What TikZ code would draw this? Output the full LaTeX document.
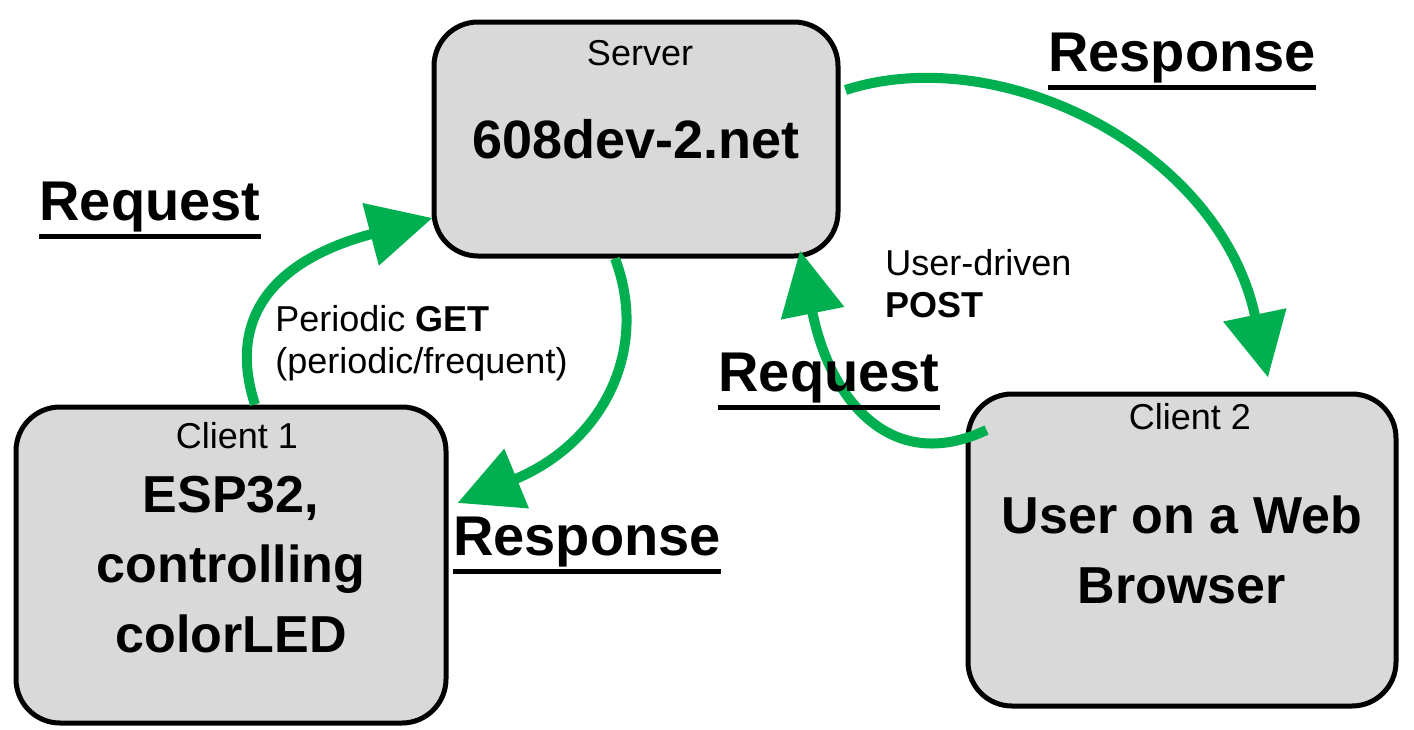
\documentclass[tikz,border=0pt]{standalone}
\usepackage{fontspec}
\setmainfont{Liberation Sans}
\usetikzlibrary{arrows.meta,calc}
\definecolor{flowgreen}{HTML}{00B050}
\definecolor{boxgray}{HTML}{D9D9D9}
\tikzset{
  box/.style={draw, line width=2.5pt, fill=boxgray, rounded corners=22pt,
    align=center, font=\fontsize{26}{35}\selectfont\bfseries},
  tag/.style={font=\fontsize{18}{21}\selectfont, inner sep=0pt},
  word/.style={font=\fontsize{28}{34}\selectfont\bfseries, inner sep=0pt},
  flow/.style={draw=flowgreen, line width=5pt, -{Triangle[length=32pt,width=31pt]}},
}
\begin{document}
\begin{tikzpicture}[x=0.5pt, y=-0.5pt]
  \useasboundingbox (0,0) rectangle (1414,729);
  %
  % boxes
  \node[box, minimum width=202pt, minimum height=117pt,
        font=\fontsize{27}{35}\selectfont\bfseries] (srv) at (636,139) {608dev-2.net};
  \node[box, minimum width=215pt, minimum height=158pt] (cA) at (231,565) {ESP32,\\controlling\\colorLED};
  \node[box, minimum width=214pt, minimum height=156pt] (cB) at (1182,550) {User on a Web\\Browser};
  %
  \node[tag] (srvtag) at (640,53) {Server};
  \node[tag] (cAtag) at (237,436) {Client 1};
  \node[tag] (cBtag) at (1190,417) {Client 2};
  %
  % arrows
  \draw[flow] ($(cA.north)+(24,0)$) .. controls +(-30,-92) and +(-152,40) .. ($(srv.west)+(1,79)$);     % request, client 1
  \draw[flow] ($(srv.south)+(-21,0)$) .. controls +(35,92) and +(145,-60) .. ($(cA.east)+(9,-62)$);     % response, client 1
  \draw[flow] ($(srv.east)+(5,-49)$) .. controls +(155,-50) and +(-48,-228) .. ($(cB.north)+(86,-14)$);  % response, client 2
  \draw[flow] ($(cB.west)+(21,-120)$) .. controls +(-95,45) and +(30,150) .. ($(srv.south)+(164,-8)$);   % request, client 2
  %
  % arrow texts
  \node[tag, anchor=west, align=left] (get) at (275,343) {Periodic \textbf{GET}\\(periodic/frequent)};
  \node[tag, anchor=west, align=left] (post) at (885,284) {User-driven\\\textbf{POST}};
  %
  \node[word] (reqL) at (150,207) {Request};
  \node[word] (resR) at (1182,58) {Response};
  \node[word] (reqM) at (829,378) {Request};
  \node[word] (resL) at (587,542) {Response};
  \foreach \n in {reqL,resR,reqM,resL}
    \draw[line width=2.5pt] ([yshift=-2pt]\n.south west) -- ([yshift=-2pt]\n.south east);
  %
\end{tikzpicture}
\end{document}
